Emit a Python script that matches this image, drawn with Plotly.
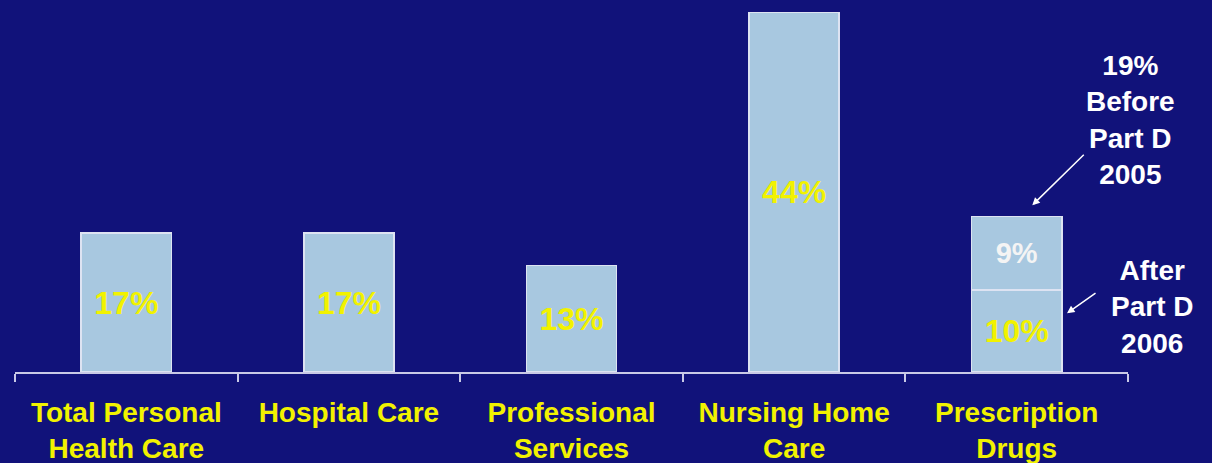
import plotly.graph_objects as go

# Share of spending by category
categories = ["Total Personal<br>Health Care", "Hospital Care", "Professional<br>Services",
              "Nursing Home<br>Care", "Prescription<br>Drugs"]
after_part_d = [17, 17, 13, 44, 10]      # 2006 values (prescription drugs after Part D)
part_d_shift = [0, 0, 0, 0, 9]           # extra share before Part D (2005: 19%)
before_part_d_total = after_part_d[4] + part_d_shift[4]

BG = "#11127a"
BAR = "#a8c8e0"
EDGE = "#dde3f2"
YELLOW = "#f2f200"
WHITE = "#ffffff"
FONT = "Liberation Sans"

fig = go.Figure()
fig.add_trace(go.Bar(
    x=categories, y=after_part_d,
    marker=dict(color=BAR, line=dict(color=EDGE, width=1.5)),
    text=[f"{v}%" for v in after_part_d],
    textposition="inside", insidetextanchor="middle",
    textfont=dict(family=FONT, size=32, color=YELLOW, weight="bold"),
    width=0.405,
))
fig.add_trace(go.Bar(
    x=categories, y=part_d_shift,
    marker=dict(color=BAR, line=dict(color=EDGE, width=1.5)),
    text=[f"{v}%" if v else "" for v in part_d_shift],
    textposition="inside", insidetextanchor="middle",
    textfont=dict(family=FONT, size=29, color="#f4f4f4", weight="bold"),
    width=0.405,
))

# Callouts for the prescription drug bar
fig.add_annotation(
    x=1.0018, y=0.677, xref="paper", yref="paper",
    xanchor="center", yanchor="middle",
    text=f"{before_part_d_total}%<br>Before<br>Part D<br>2005",
    showarrow=False, align="center",
    font=dict(family=FONT, size=28, color=WHITE, weight="bold"),
)
fig.add_annotation(
    x=4.07, y=before_part_d_total + 1.4, xref="x", yref="y",
    ax=53, ay=-52, text="", showarrow=True,
    arrowhead=2, arrowsize=1, arrowwidth=1.5, arrowcolor=WHITE,
)
fig.add_annotation(
    x=1.0216, y=0.175, xref="paper", yref="paper",
    xanchor="center", yanchor="middle",
    text="After<br>Part D<br>2006",
    showarrow=False, align="center",
    font=dict(family=FONT, size=28, color=WHITE, weight="bold"),
)
fig.add_annotation(
    x=4.226, y=7.2, xref="x", yref="y",
    ax=30, ay=-21, text="", showarrow=True,
    arrowhead=2, arrowsize=1, arrowwidth=1.5, arrowcolor=WHITE,
)

fig.update_layout(
    width=1212, height=463,
    margin=dict(l=15, r=84, t=0, b=91),
    paper_bgcolor=BG, plot_bgcolor=BG,
    barmode="stack", showlegend=False,
    xaxis=dict(
        showline=True, linecolor="#c9c9e6", linewidth=2,
        ticks="outside", tickson="boundaries", ticklen=8, tickcolor="#c9c9e6", tickwidth=1.5,
        tickfont=dict(family=FONT, size=28, color=YELLOW, weight="bold"),
        showgrid=False, zeroline=False, range=[-0.5, 4.5],
        ticklabelstandoff=14,
    ),
    yaxis=dict(visible=False, range=[0, 45.5], showgrid=False, zeroline=False),
)

fig.write_html("out.html")
